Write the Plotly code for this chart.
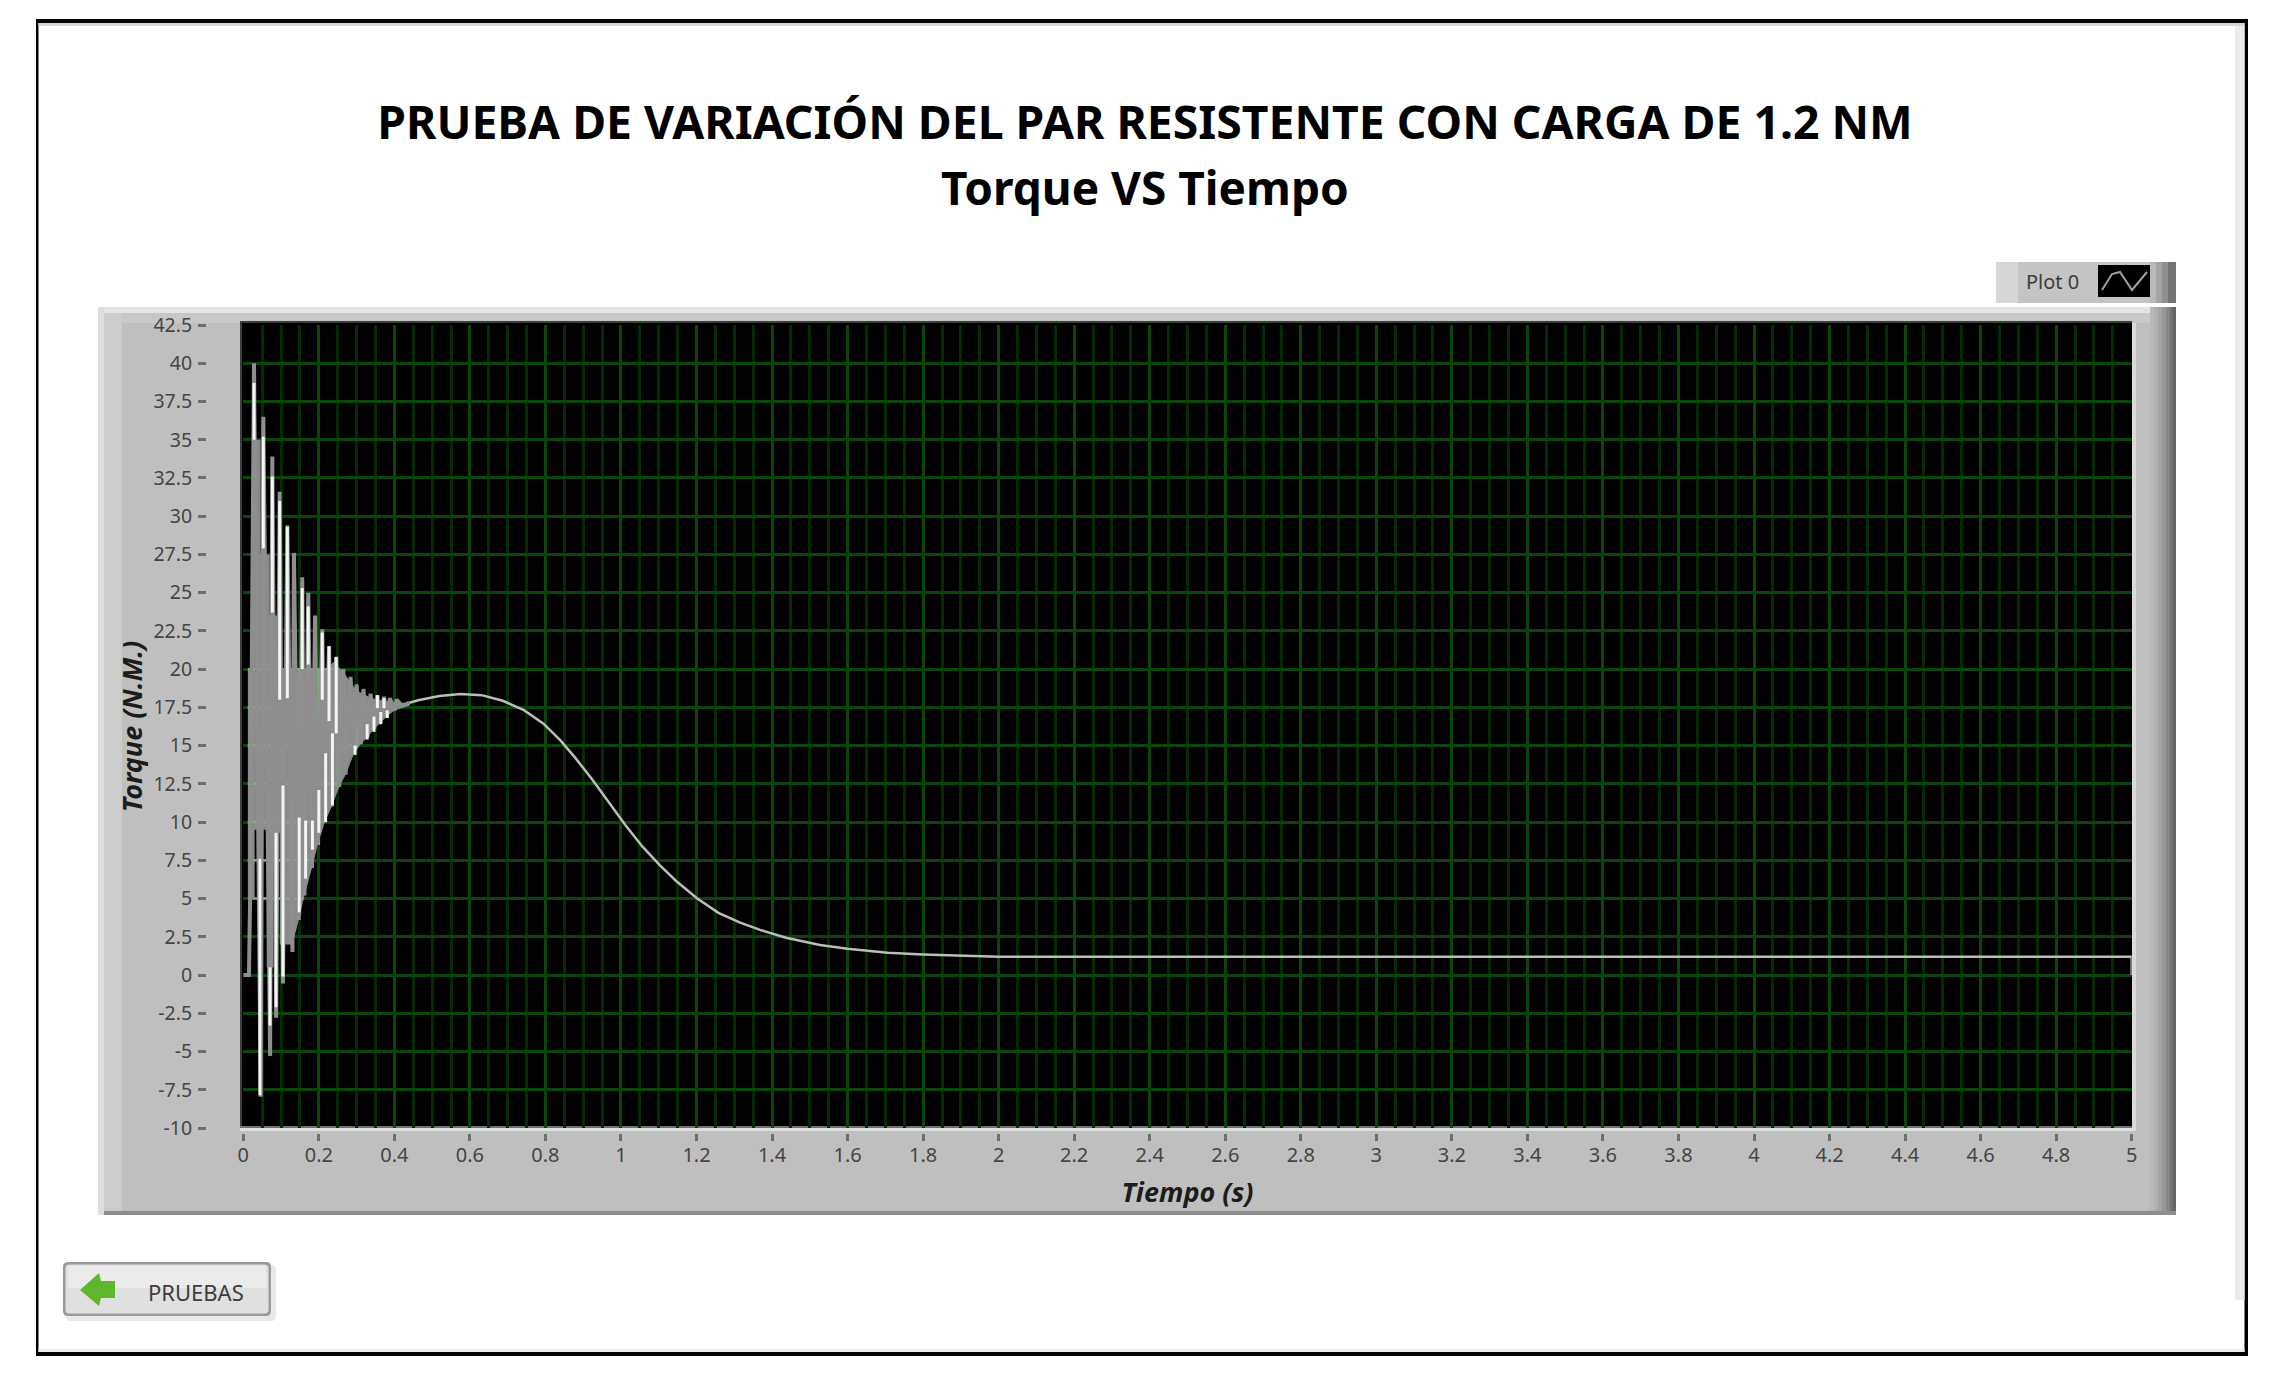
import plotly.graph_objects as go

# Torque vs time
x_ticks = [0, 0.2, 0.4, 0.6, 0.8, 1, 1.2, 1.4, 1.6, 1.8, 2, 2.2, 2.4, 2.6, 2.8, 3, 3.2, 3.4, 3.6, 3.8,
           4, 4.2, 4.4, 4.6, 4.8, 5]
x_labels = ["0", "0.2", "0.4", "0.6", "0.8", "1", "1.2", "1.4", "1.6", "1.8", "2", "2.2", "2.4", "2.6", "2.8",
            "3", "3.2", "3.4", "3.6", "3.8", "4", "4.2", "4.4", "4.6", "4.8", "5"]
y_ticks = [-10, -7.5, -5, -2.5, 0, 2.5, 5, 7.5, 10, 12.5, 15, 17.5, 20, 22.5, 25, 27.5, 30, 32.5, 35, 37.5, 40, 42.5]
y_labels = ["-10", "-7.5", "-5", "-2.5", "0", "2.5", "5", "7.5", "10", "12.5", "15", "17.5", "20", "22.5",
            "25", "27.5", "30", "32.5", "35", "37.5", "40", "42.5"]

# oscillation, peak / trough pairs
osc_t = [0, 0.015, 0.018, 0.0283, 0.046, 0.053, 0.071, 0.0768, 0.087, 0.0963, 0.105, 0.1166, 0.13, 0.134,
         0.147, 0.156, 0.162, 0.172, 0.182, 0.19, 0.197, 0.209, 0.216, 0.227, 0.234, 0.246, 0.254, 0.265,
         0.271, 0.284, 0.293, 0.30, 0.311, 0.318, 0.329, 0.337, 0.347, 0.355, 0.363, 0.3725, 0.38, 0.388,
         0.40, 0.406, 0.42, 0.44]
osc_v = [0, 0, 5, 40, -7.95, 36.5, -5.3, 33.9, -2.8, 31.6, -0.55, 29.4, 1.5, 27.6, 3.6, 26, 5.2, 25, 7, 23.5,
         8.5, 22.6, 10, 21.5, 11, 20.8, 12.3, 20, 13.1, 19.5, 14.45, 19, 15.1, 18.7, 15.55, 18.4, 16.1, 18.3,
         16.5, 18.2, 16.9, 18.1, 17.3, 18, 17.6, 17.8]

# settling curve after the oscillation
settle_t = [0.44, 0.463, 0.519, 0.575, 0.631, 0.687, 0.743, 0.794, 0.839, 0.878, 0.922, 0.967, 1.012, 1.057,
            1.102, 1.146, 1.202, 1.258, 1.314, 1.37, 1.437, 1.527, 1.6, 1.706, 1.8, 2, 3, 4, 5, 5]
settle_v = [17.8, 17.97, 18.24, 18.37, 18.3, 17.93, 17.32, 16.45, 15.36, 14.23, 12.85, 11.33, 9.8, 8.39,
            7.2, 6.15, 5.01, 4.07, 3.44, 2.94, 2.44, 1.96, 1.72, 1.46, 1.35, 1.2, 1.2, 1.2, 1.2, 0]

# bright parts of the spikes
white_t = [0.0283, 0.053, 0.0768, 0.0963, 0.1166, 0.156, 0.172, 0.209, 0.227, 0.246,
           0.044, 0.0707, 0.0866, 0.105, 0.148, 0.165, 0.183, 0.2, 0.218, 0.236,
           0.296, 0.328, 0.346, 0.355, 0.364, 0.3725, 0.381]
white_hi = [38.7, 35.2, 32.6, 31, 29.3, 25.3, 24.1, 22.4, 21.5, 20.8,
            7.6, 0.5, 9.3, 12.4, 10.3, 10.1, 10.1, 12.1, 14.5, 15.8,
            15, 16.4, 16.9, 18.3, 17.2, 18.1, 17.3]
white_lo = [35, 27.9, 23.7, 18, 18.1, 20, 20.3, 18, 16.6, 15.8,
            -7.85, -3.3, -2.1, -0.1, 4.1, 6.3, 8.2, 9.3, 10, 11.1,
            14.4, 15.4, 15.9, 17.45, 16.4, 17.45, 16.8]

# grey smear between the spikes
band_t = [0.012, 0.024, 0.024, 0.046, 0.046, 0.07, 0.07, 0.09, 0.09, 0.22, 0.24, 0.265, 0.30, 0.34, 0.40, 0.44,
          0.44, 0.40, 0.38, 0.363, 0.347, 0.329, 0.311, 0.293, 0.271, 0.254, 0.234, 0.216, 0.197, 0.182, 0.162,
          0.147, 0.13, 0.098, 0.098, 0.08, 0.08, 0.062, 0.062, 0.03, 0.03, 0.012, 0.012]
band_v = [20, 20, 35, 35, 27.5, 27.5, 23.5, 23.5, 20, 20, 20.5, 19.8, 18.6, 18.1, 17.8, 17.8,
          17.6, 17.3, 16.9, 16.5, 16.1, 15.55, 15.1, 14.45, 13.1, 12.3, 11, 10, 8.5, 7, 5.2,
          3.6, 2, 2, 9.3, 9.3, 0.5, 0.5, 9.5, 9.5, 5.1, 5.1, 20]

# grid seen through the smear
tint_y = [20, 17.5, 15, 12.5, 10, 7.5, 5]
tint_y_end = [0.24, 0.385, 0.30, 0.25, 0.215, 0.185, 0.16]
tint_x = [0.05, 0.1, 0.15, 0.2, 0.25, 0.3]
tint_x_lo = [9.5, 2, 3.9, 8.5, 12.3, 14.8]
tint_x_hi = [27.5, 20, 20, 20, 19.9, 18.6]

W = 2275
H = 1373


# screen pixels to paper, page has 8px body margin
def px(x):
    return (x - 8) / W


def py(y):
    return 1 - (y - 8) / H


def box(x0, y0, x1, y1, color):
    return dict(type="rect", xref="paper", yref="paper", x0=px(x0), x1=px(x1), y0=py(y0), y1=py(y1),
                fillcolor=color, line_width=0, layer="below")


def path_xy(points):
    return "M " + " L ".join(f"{px(a)},{py(b)}" for a, b in points) + " Z"


def round_box(x0, y0, x1, y1, r, color):
    p = (f"M {px(x0 + r)},{py(y0)} L {px(x1 - r)},{py(y0)} Q {px(x1)},{py(y0)} {px(x1)},{py(y0 + r)} "
         f"L {px(x1)},{py(y1 - r)} Q {px(x1)},{py(y1)} {px(x1 - r)},{py(y1)} "
         f"L {px(x0 + r)},{py(y1)} Q {px(x0)},{py(y1)} {px(x0)},{py(y1 - r)} "
         f"L {px(x0)},{py(y0 + r)} Q {px(x0)},{py(y0)} {px(x0 + r)},{py(y0)} Z")
    return dict(type="path", xref="paper", yref="paper", path=p, fillcolor=color, line_width=0, layer="below")


def label(text, x, y, size, color="#3c3c3c", bold=False):
    return dict(text=text, x=px(x), y=py(y), xref="paper", yref="paper", showarrow=False, xanchor="center",
                yanchor="middle", font=dict(family="Noto Sans", size=size, color=color,
                                            weight=700 if bold else 400))


shapes = [
    # outer frame
    box(36, 19, 2248, 1356, "#000000"),
    box(38.5, 23, 2244.5, 1352, "#ffffff"),
    box(38.5, 23, 2244.5, 26, "#d8d8d8"),
    box(2235, 26, 2244.5, 1300, "#ebebeb"),
    box(38.5, 1349, 2244.5, 1352, "#ededed"),
    # graph panel
    box(98, 307, 2176, 1215, "#bfbfbf"),
    box(98, 307, 2176, 313, "#e4e4e4"),
    box(98, 313, 2176, 323, "#c8c8c8"),
    box(98, 307, 104, 1215, "#dedede"),
    box(104, 313, 122, 1211, "#cccccc"),
    box(2150, 307, 2154, 1215, "#b8b8b8"),
    box(2154, 307, 2158, 1215, "#b0b0b0"),
    box(2158, 307, 2162, 1215, "#a4a4a4"),
    box(2162, 307, 2166, 1215, "#989898"),
    box(2166, 307, 2170, 1215, "#888888"),
    box(2170, 307, 2173, 1215, "#747474"),
    box(2173, 307, 2176, 1215, "#666666"),
    box(104, 1211, 2176, 1215, "#8e8e8e"),
    box(240, 321, 2132, 1128, "#3e3e3e"),
    box(2132, 323, 2136, 1131, "#dadada"),
    box(240, 1127, 2136, 1131, "#dedede"),
    box(240, 1126, 2132, 1128, "#707070"),
    box(242, 323, 2132, 1126, "#000000"),
    # legend
    box(1996, 262, 2176, 303, "#c4c4c4"),
    box(1996, 262, 2018, 303, "#d6d6d6"),
    box(2150, 262, 2156, 303, "#b8b8b8"),
    box(2156, 262, 2162, 303, "#a4a4a4"),
    box(2162, 262, 2168, 303, "#909090"),
    box(2168, 262, 2176, 303, "#747474"),
    box(2098, 265, 2150, 297, "#000000"),
    dict(type="path", xref="paper", yref="paper", layer="above", line=dict(color="#a0a0a0", width=2),
         path=f"M {px(2102)},{py(290)} L {px(2112)},{py(274)} L {px(2120)},{py(272)} L {px(2132)},{py(290)} "
              f"L {px(2147)},{py(272)}"),
    # back button
    round_box(66, 1265, 276, 1321, 5, "#e9e9e9"),
    round_box(63, 1262, 271, 1316, 5, "#9a9a9a"),
    round_box(65.5, 1264.5, 268.5, 1313.5, 4, "#e0e0e0"),
    box(68, 1266, 266, 1288, "#ebebeb"),
    dict(type="path", xref="paper", yref="paper", layer="above", fillcolor="#5fb82c", line_width=0,
         path=path_xy([(80, 1290), (99, 1273), (101, 1281), (115, 1281), (115, 1298), (101, 1298), (99, 1306)])),
]

annotations = [
    label("Torque VS Tiempo", 1145, 187, 46, "#000000", True),
    label("Plot 0", 2052, 281, 20),
    label("PRUEBAS", 196, 1292, 22),
]

fig = go.Figure()

fig.add_trace(go.Scatter(x=band_t, y=band_v, mode="lines", fill="toself", fillcolor="#8a8a8a", line_width=0,
                         hoverinfo="skip", showlegend=False))

tint_xs = []
tint_ys = []
for y0, end in zip(tint_y, tint_y_end):
    tint_xs += [0.012, end, None]
    tint_ys += [y0, y0, None]
for x0, lo, hi in zip(tint_x, tint_x_lo, tint_x_hi):
    tint_xs += [x0, x0, None]
    tint_ys += [lo, hi, None]
fig.add_trace(go.Scatter(x=tint_xs, y=tint_ys, mode="lines", line=dict(color="#82ae84", width=2.5),
                         hoverinfo="skip", showlegend=False))

fig.add_trace(go.Scatter(x=osc_t, y=osc_v, mode="lines", name="Plot 0", line=dict(color="#8e8e8e", width=4)))
fig.add_trace(go.Scatter(x=settle_t, y=settle_v, mode="lines", name="Plot 0", line=dict(color="#bcbcbc", width=2.5)))

white_xs = []
white_ys = []
for t, hi, lo in zip(white_t, white_hi, white_lo):
    white_xs += [t, t, None]
    white_ys += [hi, lo, None]
fig.add_trace(go.Scatter(x=white_xs, y=white_ys, mode="lines", name="Plot 0", line=dict(color="#f4f4f4", width=3)))

fig.update_layout(
    width=W,
    height=H,
    margin=dict(l=0, r=0, t=0, b=0, autoexpand=False),
    paper_bgcolor="#ffffff",
    plot_bgcolor="#000000",
    showlegend=False,
    font=dict(family="Noto Sans", color="#454545"),
    title=dict(text="PRUEBA DE VARIACIÓN DEL PAR RESISTENTE CON CARGA DE 1.2 NM", x=px(1145), xanchor="center",
               y=py(123), yanchor="middle", xref="paper", yref="paper",
               font=dict(family="Noto Sans", size=46.3, color="#000000", weight=700)),
    shapes=shapes,
    annotations=annotations,
    xaxis=dict(
        domain=[px(243.3), px(2131.7)], range=[0, 5], anchor="free", position=py(1133),
        tickmode="array", tickvals=x_ticks, ticktext=x_labels, ticks="outside", ticklen=7, tickwidth=3,
        tickcolor="#6e6e6e", tickfont=dict(size=20, color="#454545"), ticklabelstandoff=-3,
        showgrid=True, gridcolor="#0a450a", gridwidth=2.5, zeroline=False, showline=False,
        minor=dict(dtick=0.05, tick0=0, showgrid=True, gridcolor="#052b05", gridwidth=3, ticks=""),
        title=dict(text="Tiempo (s)", standoff=16,
                   font=dict(family="Noto Sans", size=27, color="#1c1c1c", weight=700, style="italic")),
    ),
    yaxis=dict(
        domain=[py(1128), py(325)], range=[-10, 42.5], anchor="free", position=px(206),
        tickmode="array", tickvals=y_ticks, ticktext=y_labels, ticks="outside", ticklen=8, tickwidth=3,
        tickcolor="#6e6e6e", tickfont=dict(size=19.5, color="#454545"), ticklabelstandoff=2,
        showgrid=True, gridcolor="#0a450a", gridwidth=2.5, zeroline=False, showline=False,
        title=dict(text="Torque (N.M.)", standoff=1,
                   font=dict(family="Noto Sans", size=27, color="#1c1c1c", weight=700, style="italic")),
    ),
)

fig.write_html("out.html")
